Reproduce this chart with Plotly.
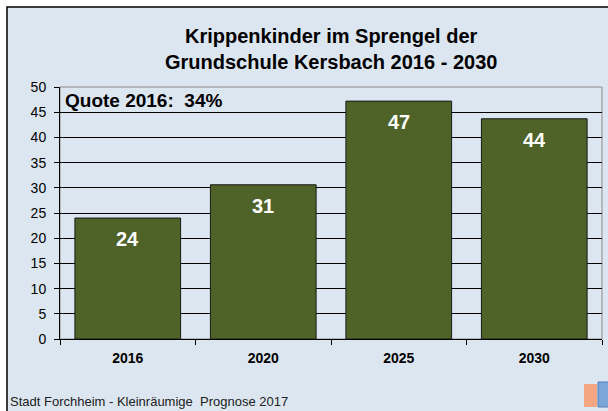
import plotly.graph_objects as go

years = ['2016', '2020', '2025', '2030']
kinder = [24.0, 30.6, 47.2, 43.7]
labels = ['24', '31', '47', '44']
y_ticks = [0, 5, 10, 15, 20, 25, 30, 35, 40, 45, 50]

bg = '#dce6f0'
bar_color = '#4f6228'

fig = go.Figure()

fig.add_trace(go.Bar(
    x=years,
    y=kinder,
    marker=dict(color=bar_color, line=dict(color='#1a1a1a', width=1)),
    showlegend=False,
    hoverinfo='skip',
))

# pixel -> paper helpers (plot area x 60..602, y 87..339)
L, R, T, B = 60, 602, 87, 339
W, H = R - L, B - T


def px(x):
    return (x - L) / W


def py(y):
    return (B - y) / H


shapes = [
    # outer frame
    dict(type='rect', xref='paper', yref='paper', layer='below',
         x0=px(7), x1=px(640), y0=py(440), y1=py(7),
         fillcolor=bg, line=dict(color='black', width=1.5)),
    # plot area border
    dict(type='rect', xref='paper', yref='paper', layer='below',
         x0=0, x1=1, y0=0, y1=1,
         line=dict(color='#8c8c8c', width=1)),
    # logos
    dict(type='rect', xref='paper', yref='paper',
         x0=px(584), x1=px(597), y0=py(407), y1=py(384),
         fillcolor='#f4a582', line=dict(width=0)),
    dict(type='rect', xref='paper', yref='paper',
         x0=px(598), x1=px(612), y0=py(407), y1=py(382),
         fillcolor='#7aa7d8', line=dict(color='#4f7fb8', width=1)),
]

annotations = [
    dict(text='<b>Krippenkinder im Sprengel der<br>Grundschule Kersbach 2016 - 2030</b>',
         xref='paper', yref='paper', x=px(331), y=py(49), showarrow=False,
         xanchor='center', yanchor='middle',
         font=dict(family='Liberation Sans', size=20, color='black')),
    dict(text='<b>Quote 2016:\u00a0\u00a034%</b>',
         xref='paper', yref='paper', x=px(63), y=py(100), showarrow=False,
         xanchor='left', yanchor='middle',
         font=dict(family='Liberation Sans', size=19, color='black')),
    dict(text='Stadt Forchheim - Kleinräumige\u00a0 Prognose 2017',
         xref='paper', yref='paper', x=px(8), y=py(401), showarrow=False,
         xanchor='left', yanchor='middle',
         font=dict(family='Liberation Sans', size=13, color='#222222')),
]

# value labels near the top of each bar (category index on the x axis)
for i, (v, lab) in enumerate(zip(kinder, labels)):
    annotations.append(dict(
        text='<b>' + lab + '</b>', x=i, y=v, xref='x', yref='y',
        showarrow=False, yanchor='middle', yshift=-21,
        font=dict(family='Liberation Sans', size=20, color='white'),
    ))

fig.update_layout(
    width=608,
    height=411,
    margin=dict(l=L, r=608 - R, t=T, b=411 - B),
    paper_bgcolor='white',
    plot_bgcolor=bg,
    bargap=0.22,
    shapes=shapes,
    annotations=annotations,
    font=dict(family='Liberation Sans', color='black'),
)

fig.update_xaxes(
    type='category',
    showline=True, linecolor='black', linewidth=1,
    ticks='outside', tickson='boundaries', ticklen=5, tickcolor='black',
    tickfont=dict(family='Liberation Sans', size=14, color='black'),
    ticklabelstandoff=6,
    showgrid=False,
    tickprefix='<b>', ticksuffix='</b>',
)

fig.update_yaxes(
    range=[0, 50],
    tickvals=y_ticks,
    showline=True, linecolor='black', linewidth=1,
    ticks='outside', ticklen=5, tickcolor='black',
    tickfont=dict(family='Liberation Sans', size=14, color='black'),
    ticklabelstandoff=5,
    showgrid=True, gridcolor='black', gridwidth=1,
    zeroline=False,
    tickprefix='<b>', ticksuffix='</b>',
)

fig.write_html('out.html', config={'displayModeBar': False},
               post_script="document.body.style.margin='0';")
